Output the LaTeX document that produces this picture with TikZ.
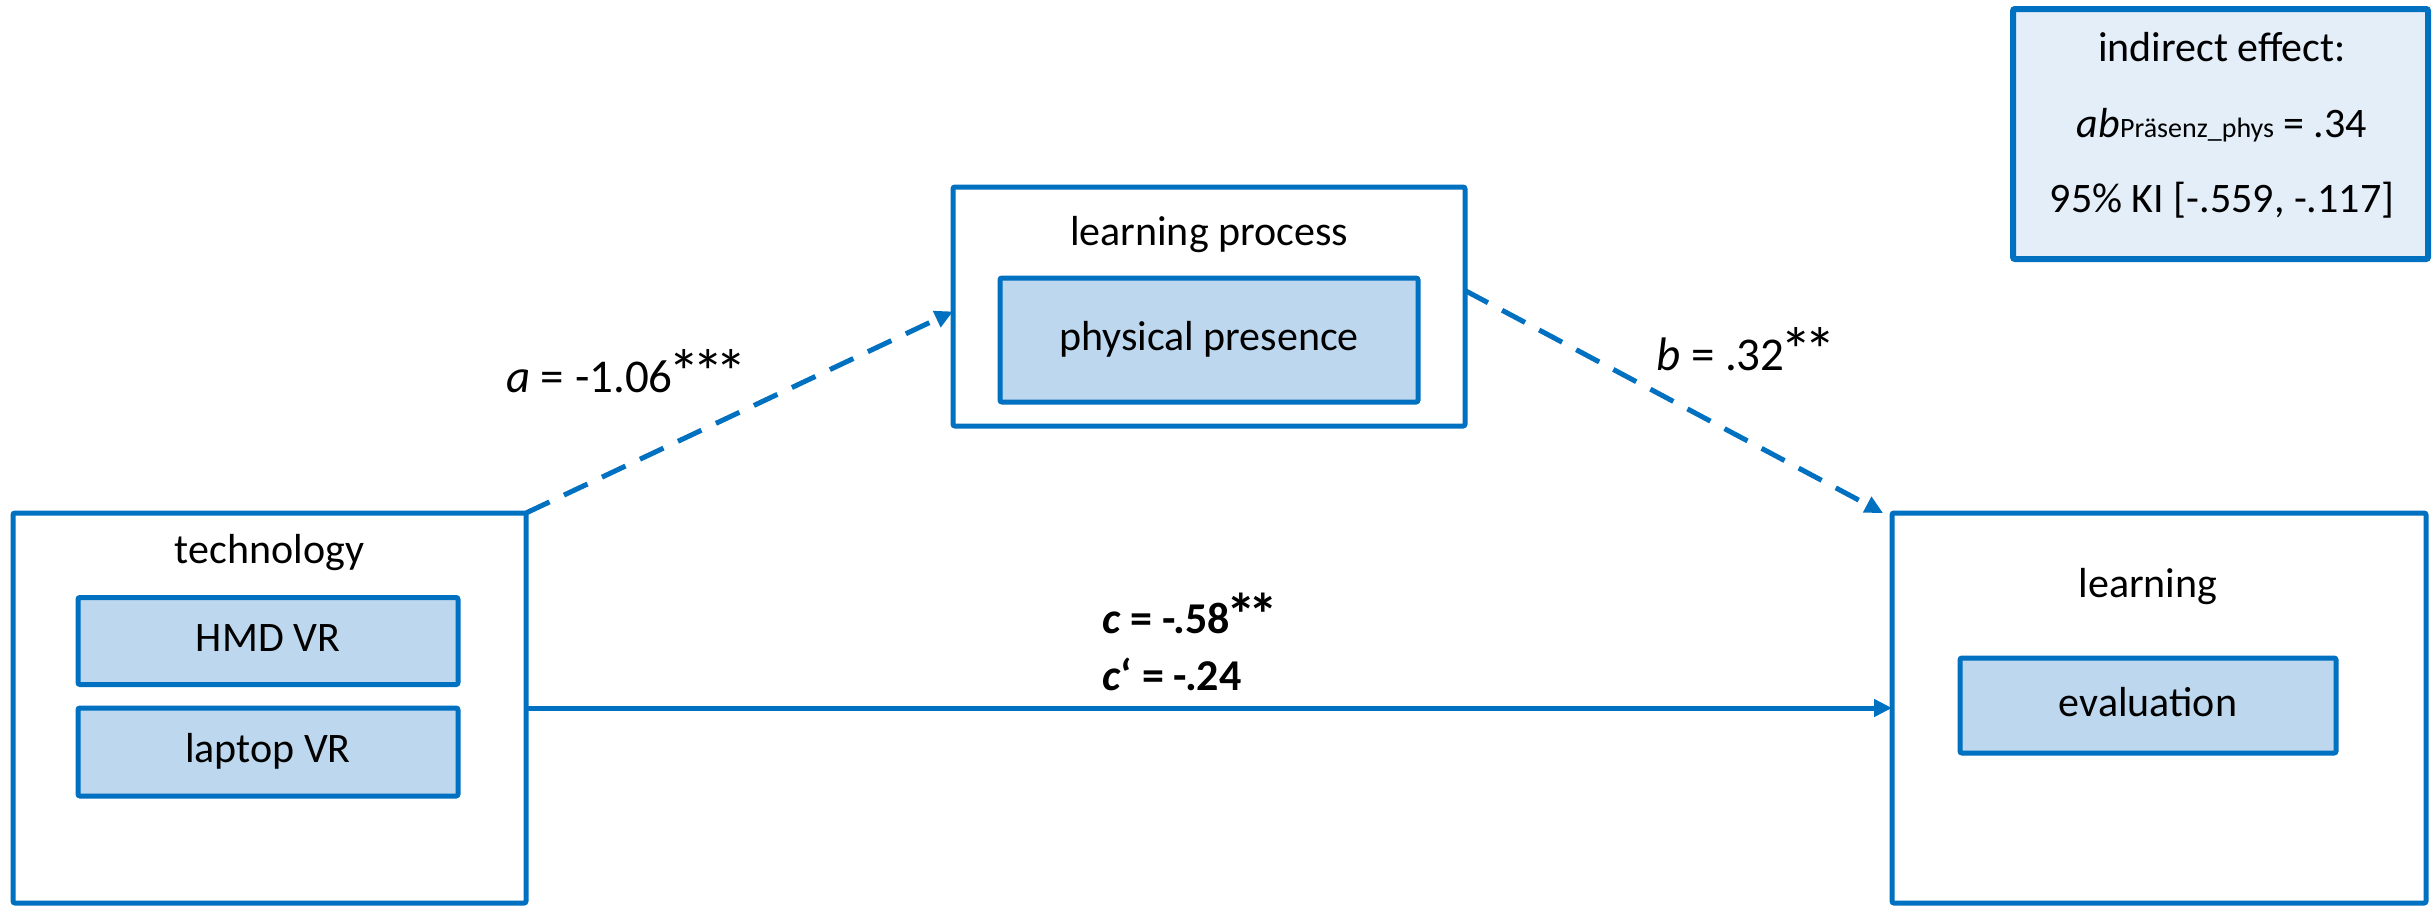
\documentclass[tikz,border=0pt]{standalone}
\usepackage{fontspec}
\setmainfont{Carlito}
\usetikzlibrary{arrows.meta}
\definecolor{edge}{HTML}{0070C0}
\definecolor{inner}{HTML}{BDD7EE}
\definecolor{note}{HTML}{E3EEF9}
% significance star, drawn a little larger than the font's own asterisk
\newcommand{\sigstar}{\makebox[0.5em]{\raisebox{-0.06em}{\scalebox{1.35}{*}}}}
\begin{document}
\begin{tikzpicture}[x=1pt,y=-1pt,
  frame/.style={draw=edge,line width=5pt,rounded corners=2pt,inner sep=0pt,outer sep=0pt},
  group/.style={frame,fill=white},
  item/.style={frame,fill=inner,font=\fontsize{42}{50}\selectfont,
    text height=31.5pt,text depth=10.5pt},
  notebox/.style={frame,fill=note,line width=6pt},
  txt/.style={inner sep=0pt,font=\fontsize{42}{50}\selectfont},
  lbl/.style={inner sep=0pt,font=\fontsize{47}{55}\selectfont},
  clbl/.style={inner sep=0pt,font=\fontsize{44}{52}\selectfont\bfseries},
  link/.style={draw=edge,line width=5pt,-{Triangle[length=18pt,width=17pt]}},
  dashlink/.style={link,dash pattern=on 26pt off 16pt}]
\useasboundingbox (0,0) rectangle (2432,906);

% technology (predictor)
\node[group,minimum width=513pt,minimum height=390pt] (tech) at (269.5,708) {};
\node[txt,anchor=base] (techlbl) at (269.5,563) {technology};
\node[item,minimum width=380pt,minimum height=87pt] (hmd) at (268,641) {HMD VR};
\node[item,minimum width=380pt,minimum height=88pt] (laptop) at (268,752) {laptop VR};

% learning process (mediator)
\node[group,minimum width=512pt,minimum height=239pt] (lp) at (1209,306.5) {};
\node[txt,anchor=base] (lplbl) at (1209,245) {learning process};
\node[item,minimum width=418pt,minimum height=124pt] (pp) at (1209,340) {physical presence};

% learning (outcome)
\node[group,minimum width=534pt,minimum height=390pt] (learn) at (2159,708) {};
\node[txt,anchor=base] (learnlbl) at (2148,597) {learning};
\node[item,minimum width=376pt,minimum height=95pt] (eval) at (2148,705.5) {evaluation};

% indirect effect
\node[notebox,minimum width=415pt,minimum height=250pt] (ind) at (2220.5,134) {};
\node[txt,anchor=base] (ind1) at (2222,61) {indirect effect:};
\node[txt,anchor=base] (ind2) at (2222,137)
  {\textit{ab}{\fontsize{28}{30}\selectfont Präsenz\_phys} = .34};
\node[txt,anchor=base] (ind3) at (2222,212) {95\% KI [-.559, -.117]};

% paths
\draw[dashlink] (tech.north east) -- ([yshift=-5pt]lp.west);
\draw[dashlink] ([yshift=16pt]lp.east) -- ([xshift=-9pt]learn.north west);
\draw[link] (tech.east) -- (learn.west);

% path coefficients
\node[lbl,anchor=base west] (alab) at (506,392) {\textit{a} = -1.06\sigstar\sigstar\sigstar};
\node[lbl,anchor=base west] (blab) at (1656,370) {\textit{b} = .32\sigstar\sigstar};
\node[clbl,anchor=base west] (clab) at (1102,633) {\textit{c} = -.58\sigstar\sigstar};
\node[clbl,anchor=base west] (cplab) at (1102,690) {\textit{c}‘ = -.24};
\end{tikzpicture}
\end{document}
